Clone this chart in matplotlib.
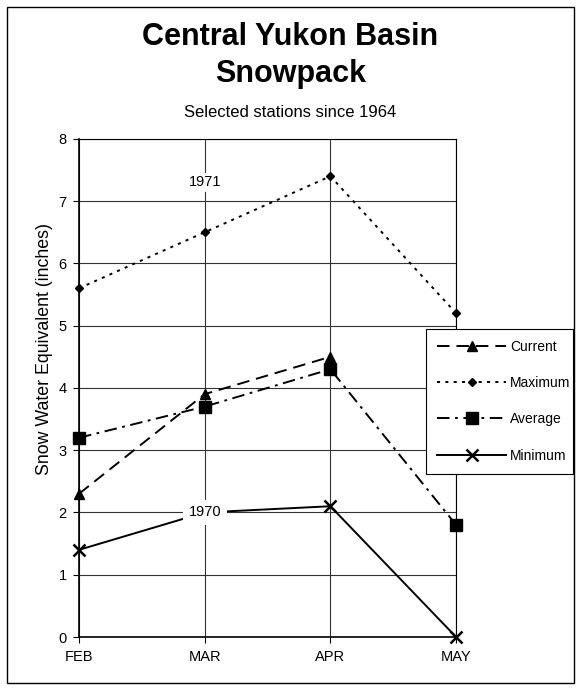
import matplotlib.pyplot as plt
from matplotlib.patches import Rectangle

plt.rcParams['font.family'] = ['Liberation Sans', 'DejaVu Sans']
plt.rcParams['lines.scale_dashes'] = False

months = ['FEB', 'MAR', 'APR', 'MAY']
current = [2.3, 3.9, 4.5]
maximum = [5.6, 6.5, 7.4, 5.2]
average = [3.2, 3.7, 4.3, 1.8]
minimum = [1.4, 2.0, 2.1, 0.0]
max_year = '1971'
min_year = '1970'

fig = plt.figure(figsize=(5.81, 6.9), dpi=100)
ax = fig.add_axes([0.136, 0.0768, 0.649, 0.722])

x = list(range(len(months)))

ax.plot(x[:len(current)], current, color='black', lw=1.4, dashes=(9, 5),
        marker='^', ms=7, label='Current', zorder=3, clip_on=False)
ax.plot(x, maximum, color='black', lw=1.4, dashes=(2.2, 3.8),
        marker='D', ms=4.5, label='Maximum', zorder=3, clip_on=False)
ax.plot(x, average, color='black', lw=1.4, dashes=(9, 4, 2, 4),
        marker='s', ms=8, label='Average', zorder=3, clip_on=False)
ax.plot(x, minimum, color='black', lw=1.4, marker='x', ms=9, mew=1.8,
        label='Minimum', zorder=3, clip_on=False)

# year labels on the record lines
ax.text(1, 7.3, max_year, ha='center', va='center', fontsize=10.5,
        bbox=dict(facecolor='white', edgecolor='none', pad=2), zorder=4)
ax.text(1, minimum[1], min_year, ha='center', va='center', fontsize=10.5,
        bbox=dict(facecolor='white', edgecolor='none', pad=4), zorder=4)

ax.set_xlim(0, 3)
ax.set_ylim(0, 8)
ax.set_xticks(x)
ax.set_xticklabels(months)
ax.set_yticks(range(9))
ax.tick_params(labelsize=10.5, length=4, width=0.8, pad=5)
ax.grid(True, color='#333333', lw=0.8)
ax.set_axisbelow(True)
for s in ['top', 'right']:
    ax.spines[s].set_linewidth(0.8)
for s in ['left', 'bottom']:
    ax.spines[s].set_linewidth(1.2)
ax.set_ylabel('Snow Water Equivalent (inches)', fontsize=12.8)
ax.yaxis.set_label_coords(-0.07, 0.578)

leg = fig.legend(loc='center', bbox_to_anchor=(0.733, 0.312, 0.253, 0.213),
                 mode='expand', fontsize=10, handlelength=5.0, handletextpad=0.25,
                 labelspacing=1.6, borderpad=0.8, borderaxespad=0, fancybox=False,
                 framealpha=1, edgecolor='black')
leg.get_frame().set_linewidth(0.8)
leg.set_zorder(5)

fig.text(0.5, 0.946, 'Central Yukon Basin', ha='center', va='center',
         fontsize=22, fontweight='bold')
fig.text(0.5, 0.893, 'Snowpack', ha='center', va='center',
         fontsize=22, fontweight='bold')
fig.text(0.5, 0.837, 'Selected stations since 1964', ha='center', va='center',
         fontsize=12)

# outer chart border
fig.patches.append(Rectangle((0.012, 0.01), 0.976, 0.98, transform=fig.transFigure,
                             fill=False, edgecolor='black', lw=1.0))

fig.savefig('out.png', dpi=100)
